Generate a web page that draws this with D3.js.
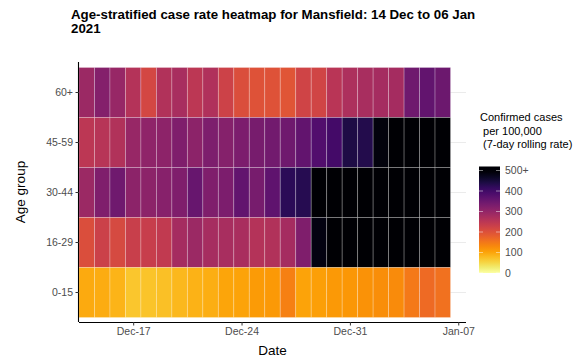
<!DOCTYPE html>
<html>
<head>
<meta charset="utf-8">
<script src="https://cdn.jsdelivr.net/npm/d3@7"></script>
<style>
  html, body { margin: 0; padding: 0; background: #fff; }
  svg { display: block; font-family: "Liberation Sans", Arial, sans-serif; }
</style>
</head>
<body>
<svg id="chart" width="585" height="362"></svg>
<script>
// ---- Data ----
const startDate = "2020-12-14";
const ageGroups = ["60+", "45-59", "30-44", "16-29", "0-15"];
const rate60plus = [290, 320, 295, 258, 215, 262, 275, 250, 265, 225, 205, 198, 198, 195, 222, 220, 252, 268, 275, 278, 278, 345, 360, 348];
const rate45to59 = [250, 255, 262, 295, 305, 308, 325, 310, 328, 318, 330, 335, 340, 345, 360, 380, 398, 440, 435, 490, 560, 610, 640, 650];
const rate30to44 = [290, 325, 345, 310, 310, 315, 325, 355, 325, 330, 360, 335, 365, 425, 430, 540, 600, 640, 680, 700, 690, 680, 660, 650];
const rate16to29 = [205, 228, 212, 232, 233, 242, 278, 290, 276, 275, 272, 258, 262, 278, 325, 485, 560, 620, 660, 690, 700, 690, 670, 650];
const rate0to15 = [95, 92, 85, 68, 70, 74, 82, 86, 90, 100, 102, 110, 112, 140, 103, 106, 112, 115, 120, 125, 128, 148, 165, 158];
const xTickLabels = ["Dec-17", "Dec-24", "Dec-31", "Jan-07"];
const legendTicks = [0, 100, 200, 300, 400, 500];
const legendTickLabels = ["0", "100", "200", "300", "400", "500+"];

const seriesByGroup = {
  "60+": rate60plus, "45-59": rate45to59, "30-44": rate30to44,
  "16-29": rate16to29, "0-15": rate0to15
};

const parse = d3.timeParse("%Y-%m-%d");
const day0 = parse(startDate);
const dates = rate0to15.map((_, i) => d3.timeDay.offset(day0, i));
const cells = [];
ageGroups.forEach(g => seriesByGroup[g].forEach((v, i) => cells.push({ group: g, date: dates[i], value: v })));

// ---- Layout ----
const svg = d3.select("#chart");
const panel = { left: 79, right: 466, top: 62, bottom: 322 };

const x = d3.scaleTime()
  .domain([d3.timeHour.offset(day0, -12), d3.timeHour.offset(day0, 24 * 24 + 12)])
  .range([panel.left, panel.right]);
const y = d3.scaleBand().domain(ageGroups).range([67.5, 317.5]);
const color = v => d3.interpolateInferno(1 - Math.min(v, 500) / 500);

// grid lines
svg.append("g").selectAll("line").data(ageGroups).join("line")
  .attr("x1", panel.left).attr("x2", panel.right)
  .attr("y1", d => y(d) + y.bandwidth() / 2).attr("y2", d => y(d) + y.bandwidth() / 2)
  .attr("stroke", "#ebebeb").attr("stroke-width", 1);

// tiles
svg.append("g").selectAll("rect").data(cells).join("rect")
  .attr("x", d => x(d3.timeHour.offset(d.date, -12)))
  .attr("width", d => x(d3.timeHour.offset(d.date, 12)) - x(d3.timeHour.offset(d.date, -12)))
  .attr("y", d => y(d.group))
  .attr("height", y.bandwidth())
  .attr("fill", d => color(d.value))
  .attr("stroke", "#ffffff").attr("stroke-opacity", 0.3).attr("stroke-width", 0.8);

// x axis
const tickDates = xTickLabels.map(s => d3.timeParse("%b-%d-%Y")(s + (s.startsWith("Jan") ? "-2021" : "-2020")));
const xAxis = d3.axisBottom(x).tickValues(tickDates).tickFormat((d, i) => xTickLabels[i]).tickSize(3.5).tickPadding(2.5);
const gx = svg.append("g").attr("transform", `translate(0,${panel.bottom})`).call(xAxis);
gx.select(".domain").attr("d", `M${panel.left},0.5H${panel.right}`).attr("stroke", "#000").attr("stroke-width", 1.1);
gx.selectAll(".tick line").attr("stroke", "#333");
gx.selectAll(".tick text").attr("fill", "#4d4d4d").style("font-size", "10.5px").style("font-family", "Liberation Sans, Arial, sans-serif");

// y axis
const yAxis = d3.axisLeft(y).tickSize(3.5).tickPadding(2.5);
const gy = svg.append("g").attr("transform", `translate(${panel.left},0)`).call(yAxis);
gy.select(".domain").attr("d", `M-0.5,${panel.top}V${panel.bottom}`).attr("stroke", "#000").attr("stroke-width", 1.1);
gy.selectAll(".tick line").attr("stroke", "#333");
gy.selectAll(".tick text").attr("fill", "#4d4d4d").style("font-size", "10.5px").style("font-family", "Liberation Sans, Arial, sans-serif");

// axis titles
svg.append("text").attr("x", (panel.left + panel.right) / 2).attr("y", 355)
  .attr("text-anchor", "middle").style("font-size", "13.5px").attr("fill", "#000").text("Date");
svg.append("text").attr("transform", `translate(25,${(panel.top + panel.bottom) / 2}) rotate(-90)`)
  .attr("text-anchor", "middle").style("font-size", "13.5px").attr("fill", "#000").text("Age group");

// title
const title = svg.append("text").attr("x", 71).attr("y", 18.5)
  .style("font-size", "13.3px").style("font-weight", "bold").attr("fill", "#000");
title.append("tspan").attr("x", 71).attr("dy", 0).text("Age-stratified case rate heatmap for Mansfield: 14 Dec to 06 Jan");
title.append("tspan").attr("x", 71).attr("dy", 14).text("2021");

// legend
const legTitle = ["Confirmed cases", " per 100,000", " (7-day rolling rate)"];
svg.append("g").selectAll("text").data(legTitle).join("text")
  .attr("x", 480).attr("y", (d, i) => 121 + i * 13.5)
  .style("font-size", "11px").style("white-space", "pre").attr("xml:space", "preserve")
  .attr("fill", "#000").text(d => d);

const legY = d3.scaleLinear().domain([0, 500]).range([273, 170.5]);
const barTop = 166.5, barBottom = 273, barX = 479, barW = 21;
const defs = svg.append("defs");
const grad = defs.append("linearGradient").attr("id", "lg").attr("x1", 0).attr("x2", 0).attr("y1", 1).attr("y2", 0);
d3.range(0, 1.0001, 0.05).forEach(t => {
  const v = (legY.invert(barBottom - t * (barBottom - barTop)));
  grad.append("stop").attr("offset", t).attr("stop-color", color(v));
});
svg.append("rect").attr("x", barX).attr("y", barTop).attr("width", barW).attr("height", barBottom - barTop).attr("fill", "url(#lg)");
const lt = svg.append("g");
lt.selectAll("line.l").data(legendTicks).join("line")
  .attr("x1", barX).attr("x2", barX + 4).attr("y1", d => legY(d)).attr("y2", d => legY(d))
  .attr("stroke", "#fff").attr("stroke-opacity", 0.6).attr("stroke-width", 0.8);
lt.selectAll("line.r").data(legendTicks).join("line")
  .attr("x1", barX + barW - 4).attr("x2", barX + barW).attr("y1", d => legY(d)).attr("y2", d => legY(d))
  .attr("stroke", "#fff").attr("stroke-opacity", 0.6).attr("stroke-width", 0.8);
lt.selectAll("text").data(legendTicks).join("text")
  .attr("x", 505).attr("y", d => legY(d)).attr("dy", "0.35em")
  .style("font-size", "10.5px").attr("fill", "#4d4d4d")
  .text((d, i) => legendTickLabels[i]);
</script>
</body>
</html>
